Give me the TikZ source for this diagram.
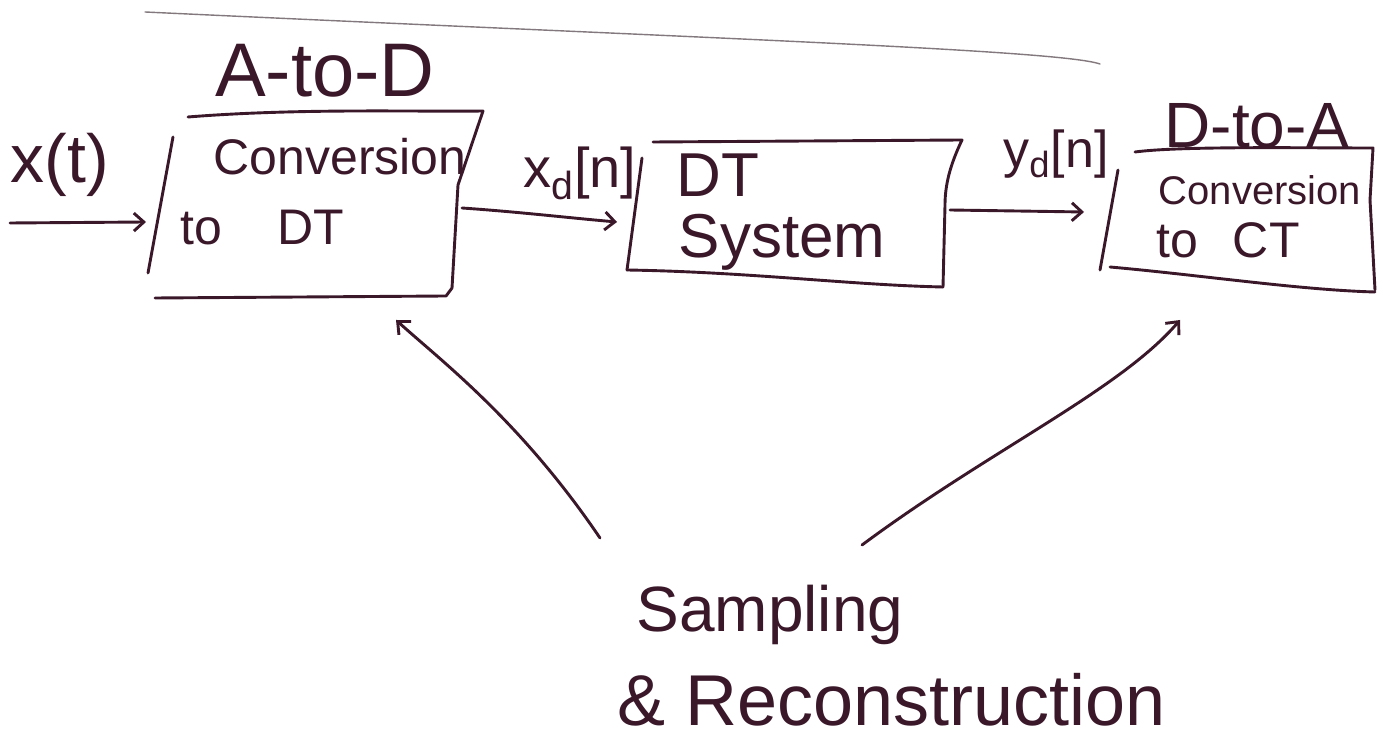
\documentclass[tikz,border=0pt]{standalone}
\usepackage{fontspec}
\setmainfont{Liberation Sans}
\usetikzlibrary{arrows.meta}
\definecolor{inkc}{RGB}{58,24,42}
\definecolor{pencilc}{RGB}{130,120,125}
\begin{document}
\begin{tikzpicture}[x=0.5pt,y=-0.5pt,
  inkl/.style={draw=inkc, line width=1.45pt, line cap=round, line join=round},
  arr/.style={inkl, -{Straight Barb[length=5pt,width=9pt,line width=1.45pt]}},
  lbl/.style={text=inkc, inner sep=0pt, anchor=base}]
\useasboundingbox (0,0) rectangle (1391,747);
\fill[white] (0,0) rectangle (1391,747);

% faint line at the top
\draw[draw=pencilc, line width=0.7pt, line cap=round] (145,12) .. controls (700,38) and (1060,50) .. (1100,64);

% ---- box 1 : A-to-D
\draw[inkl] (188,117) .. controls (300,108) and (420,112) .. (483,111) -- (458,185) -- (452,288) -- (446,296) -- (155,298);
\draw[inkl] (173,137) -- (148,273);
\coordinate (b1in) at (146,222);
\coordinate (b1out) at (462,208);
\coordinate (b1bot) at (396,320);

% ---- box 2 : DT system
\draw[inkl] (653,142) -- (962,140) .. controls (950,165) and (945,185) .. (945,205) -- (943,287);
\draw[inkl] (627,270) .. controls (750,272) and (850,285) .. (943,287);
\draw[inkl] (642,158) -- (627,270);
\coordinate (b2in) at (617,222);
\coordinate (b2out) at (950,210);

% ---- box 3 : D-to-A
\draw[inkl] (1135,152) .. controls (1180,146) and (1300,148) .. (1373,148) -- (1370,200) -- (1375,290);
\draw[inkl] (1110,267) .. controls (1200,275) and (1300,290) .. (1375,292);
\draw[inkl] (1118,170) -- (1100,270);
\coordinate (b3in) at (1084,212);
\coordinate (b3bot) at (1180,320);

% ---- free ends of connectors
\coordinate (xin) at (10,223);
\coordinate (srL) at (600,538);
\coordinate (srR) at (862,545);

% ---- text
\node[lbl, font=\fontsize{38}{40}\selectfont] (atod) at (325,97) {A-to-D};
\node[lbl, font=\fontsize{25}{28}\selectfont] (conv1) at (340,175) {Conversion};
\node[lbl, font=\fontsize{25}{28}\selectfont] (todt) at (262,245) {to\hspace{1.1em}DT};
\node[lbl, font=\fontsize{31}{34}\selectfont] (dt) at (718,197) {DT};
\node[lbl, font=\fontsize{31}{34}\selectfont] (sys) at (782,258) {System};
\node[lbl, font=\fontsize{32}{34}\selectfont] (dtoa) at (1257,148) {D-to-A};
\node[lbl, font=\fontsize{20}{24}\selectfont] (conv3) at (1260,205) {Conversion};
\node[lbl, font=\fontsize{25}{28}\selectfont] (toct) at (1228,258) {to\hspace{0.7em}CT};
\node[lbl, font=\fontsize{34}{36}\selectfont] (xt) at (60,183) {x(t)};
\node[lbl, font=\fontsize{28}{30}\selectfont] (xd) at (580,188) {x\textsubscript{d}[n]};
\node[lbl, font=\fontsize{26}{28}\selectfont] (yd) at (1056,168) {y\textsubscript{d}[n]};
\node[lbl, font=\fontsize{32}{34}\selectfont] (samp) at (770,632) {Sampling};
\node[lbl, font=\fontsize{36}{38}\selectfont] (recon) at (892,725) {\& Reconstruction};

% ---- connectors
\draw[arr] (xin) -- (b1in);
\draw[arr] (b1out) .. controls (520,212) and (570,218) .. (b2in);
\draw[arr] (b2out) -- (b3in);
\draw[arr] (srL) .. controls (520,420) and (440,360) .. (b1bot);
\draw[arr] (srR) .. controls (990,450) and (1120,390) .. (b3bot);
\end{tikzpicture}
\end{document}
